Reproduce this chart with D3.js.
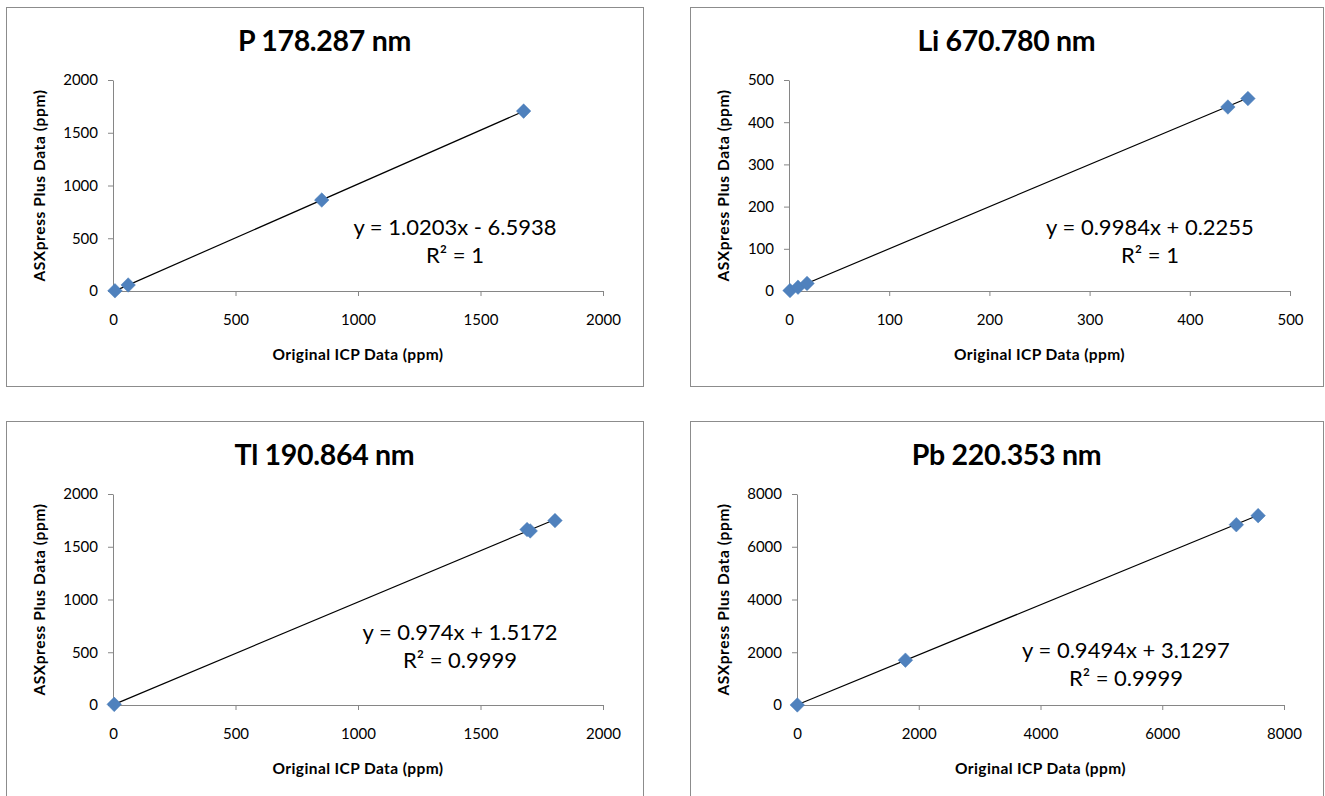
<!DOCTYPE html>
<html>
<head>
<meta charset="utf-8">
<script src="https://cdnjs.cloudflare.com/ajax/libs/d3/7.8.5/d3.min.js"></script>
<style>
  body { margin: 0; background: #fff; }
  svg { display: block; font-family: Lato, "Open Sans", sans-serif; }
</style>
</head>
<body>
<div id="chart"></div>
<script>
// chart values
var titles = ["P 178.287 nm", "Li 670.780 nm", "Tl 190.864 nm", "Pb 220.353 nm"];
var xTicks = [
  [0, 500, 1000, 1500, 2000],
  [0, 100, 200, 300, 400, 500],
  [0, 500, 1000, 1500, 2000],
  [0, 2000, 4000, 6000, 8000]
];
var yTicks = [
  [0, 500, 1000, 1500, 2000],
  [0, 100, 200, 300, 400, 500],
  [0, 500, 1000, 1500, 2000],
  [0, 2000, 4000, 6000, 8000]
];
var xValues = [
  [8, 62, 852, 1676],
  [1, 9, 18, 438, 458],
  [5, 1690, 1703, 1804],
  [5, 1781, 7217, 7575]
];
var yValues = [
  [2, 57, 862, 1705],
  [1, 9, 18, 436, 456],
  [6, 1663, 1650, 1748],
  [3, 1700, 6835, 7180]
];
var slopes = [1.0203, 0.9984, 0.974, 0.9494];
var intercepts = [-6.5938, 0.2255, 1.5172, 3.1297];
var eqLabels = ["y = 1.0203x - 6.5938", "y = 0.9984x + 0.2255", "y = 0.974x + 1.5172", "y = 0.9494x + 3.1297"];
var r2Labels = ["R\u00B2 = 1", "R\u00B2 = 1", "R\u00B2 = 0.9999", "R\u00B2 = 0.9999"];
var xTitle = "Original ICP Data  (ppm)";
var yTitle = "ASXpress Plus Data  (ppm)";

// layout of the four chart boxes (pixels)
var frames = [
  { x: 6, y: 7, w: 637, h: 379, px: 113, py: 80, pw: 490, ph: 211, ex: 342, ey: 155 },
  { x: 690, y: 7, w: 633, h: 379, px: 789, py: 80, pw: 501, ph: 211, ex: 361, ey: 155 },
  { x: 6, y: 421, w: 637, h: 390, px: 113, py: 494, pw: 490, ph: 211, ex: 347, ey: 146 },
  { x: 690, y: 421, w: 633, h: 390, px: 797, py: 494, pw: 487, ph: 211, ex: 329, ey: 164 }
];

var width = 1325, height = 796;
var axisColor = "#868686";
var markerColor = "#4F81BD";

var svg = d3.select("#chart")
  .append("svg")
  .attr("width", width)
  .attr("height", height);

frames.forEach(function(f, i) {
  svg.append("rect")
    .attr("x", f.x + 0.5)
    .attr("y", f.y + 0.5)
    .attr("width", f.w)
    .attr("height", f.h)
    .attr("fill", "#fff")
    .attr("stroke", "#8c8c8c");

  svg.append("text")
    .attr("x", f.x + f.w / 2)
    .attr("y", f.y + 44)
    .attr("text-anchor", "middle")
    .attr("font-size", 28.5)
    .attr("font-weight", "bold")
    .attr("letter-spacing", -0.3)
    .text(titles[i]);

  var x = d3.scaleLinear()
    .domain([0, d3.max(xTicks[i])])
    .range([f.px, f.px + f.pw]);
  var y = d3.scaleLinear()
    .domain([0, d3.max(yTicks[i])])
    .range([f.py + f.ph, f.py]);

  var gx = svg.append("g")
    .attr("transform", "translate(0," + (f.py + f.ph) + ")")
    .call(d3.axisBottom(x).tickValues(xTicks[i]).tickSize(5).tickSizeOuter(0).tickPadding(18).tickFormat(d3.format("d")));
  var gy = svg.append("g")
    .attr("transform", "translate(" + f.px + ",0)")
    .call(d3.axisLeft(y).tickValues(yTicks[i]).tickSize(5).tickSizeOuter(0).tickPadding(10).tickFormat(d3.format("d")));

  [gx, gy].forEach(function(g) {
    g.select(".domain").attr("stroke", axisColor);
    g.selectAll(".tick line").attr("stroke", axisColor);
    g.selectAll(".tick text")
      .attr("fill", "#000")
      .attr("font-size", 15)
      .attr("font-family", "Lato, sans-serif");
  });

  svg.append("text")
    .attr("x", f.px + f.pw / 2)
    .attr("y", f.py + f.ph + 69)
    .attr("text-anchor", "middle")
    .attr("font-size", 15.5)
    .attr("font-weight", "bold")
    .attr("letter-spacing", 0.4)
    .text(xTitle);

  svg.append("text")
    .attr("transform", "translate(" + (f.x + 39) + "," + (f.py + f.ph / 2) + ") rotate(-90)")
    .attr("text-anchor", "middle")
    .attr("font-size", 15.5)
    .attr("font-weight", "bold")
    .attr("letter-spacing", 0.6)
    .text(yTitle);

  // trendline across the data range
  var x0 = d3.min(xValues[i]), x1 = d3.max(xValues[i]);
  svg.append("line")
    .attr("x1", x(x0))
    .attr("y1", y(slopes[i] * x0 + intercepts[i]))
    .attr("x2", x(x1))
    .attr("y2", y(slopes[i] * x1 + intercepts[i]))
    .attr("stroke", "#000")
    .attr("stroke-width", 1.2);

  svg.append("g")
    .selectAll("path")
    .data(xValues[i].map(function(v, j) { return [v, yValues[i][j]]; }))
    .enter().append("path")
      .attr("d", d3.symbol().type(d3.symbolDiamond2).size(135))
      .attr("transform", function(d) { return "translate(" + x(d[0]) + "," + y(d[1]) + ")"; })
      .attr("fill", markerColor)
      .attr("stroke", "#4A7EBB")
      .attr("stroke-width", 0.5);

  svg.append("text")
    .attr("x", f.px + f.ex)
    .attr("y", f.py + f.ey)
    .attr("text-anchor", "middle")
    .attr("font-size", 22)
    .text(eqLabels[i]);
  svg.append("text")
    .attr("x", f.px + f.ex)
    .attr("y", f.py + f.ey + 28)
    .attr("text-anchor", "middle")
    .attr("font-size", 22)
    .text(r2Labels[i]);
});
</script>
</body>
</html>
